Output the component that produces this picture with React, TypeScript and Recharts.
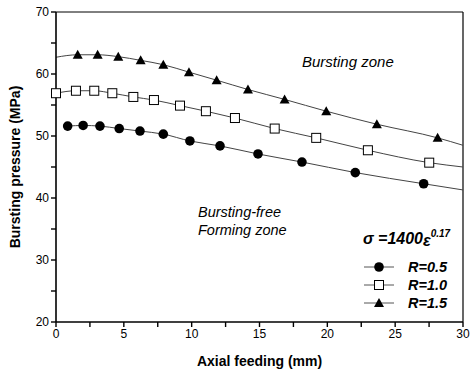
import { ComposedChart, Line, Scatter, XAxis, YAxis, ReferenceLine } from "recharts"

// axial feeding (mm) / bursting pressure (MPa)
const feedR05 = [0.86, 2.0, 3.24, 4.66, 6.19, 7.91, 9.87, 12.09, 14.89, 18.13, 22.06, 27.1]
const pressR05 = [51.6, 51.7, 51.6, 51.2, 50.8, 50.3, 49.2, 48.4, 47.1, 45.8, 44.1, 42.3]
const endR05 = { x: 30, y: 41.3 }

const feedR10 = [0, 1.47, 2.82, 4.15, 5.7, 7.22, 9.14, 11.05, 13.19, 16.12, 19.18, 22.99, 27.51]
const pressR10 = [56.9, 57.3, 57.3, 56.9, 56.3, 55.8, 54.9, 54.0, 52.9, 51.2, 49.7, 47.7, 45.7]
const endR10 = { x: 30, y: 45.0 }

const feedR15 = [1.6, 3.07, 4.59, 6.24, 7.91, 9.8, 11.84, 14.15, 16.85, 19.92, 23.65, 28.13]
const pressR15 = [63.1, 63.1, 62.8, 62.2, 61.5, 60.3, 59.0, 57.5, 55.9, 54.0, 51.9, 49.7]
const startR15 = { x: 0, y: 62.7 }
const endR15 = { x: 30, y: 48.5 }

const seriesNames = ["R=0.5", "R=1.0", "R=1.5"]

const xTicks = [0, 2.5, 5, 7.5, 10, 12.5, 15, 17.5, 20, 22.5, 25, 27.5, 30]
const yTicks = [20, 25, 30, 35, 40, 45, 50, 55, 60, 65, 70]

const toPoints = (xs: number[], ys: number[]) => xs.map((x, i) => ({ x, y: ys[i] }))

const ptsR05 = toPoints(feedR05, pressR05)
const ptsR10 = toPoints(feedR10, pressR10)
const ptsR15 = toPoints(feedR15, pressR15)

const curveR05 = [...ptsR05, endR05]
const curveR10 = [...ptsR10, endR10]
const curveR15 = [startR15, ...ptsR15, endR15]

const font = "'Liberation Sans', Arial, sans-serif"

const CircleDot = (p: any) => <circle cx={p.cx} cy={p.cy} r={4.8} fill="#000" />
const SquareDot = (p: any) => (
  <rect x={p.cx - 4.5} y={p.cy - 4.5} width={9} height={9} fill="#fff" stroke="#000" strokeWidth={1} />
)
const TriDot = (p: any) => (
  <polygon points={`${p.cx},${p.cy - 5} ${p.cx - 5},${p.cy + 4} ${p.cx + 5},${p.cy + 4}`} fill="#000" />
)

const markerShapes = [CircleDot, SquareDot, TriDot]

const tickStyle = { fontSize: 12, fill: "#000", fontFamily: font }

function LegendBox() {
  return (
    <div style={{ position: "absolute", left: 363, top: 258, fontFamily: font }}>
      {seriesNames.map((name, i) => {
        const Mark = markerShapes[i]
        return (
          <div key={name} style={{ display: "flex", alignItems: "center", height: 18 }}>
            <svg width={32} height={14}>
              <line x1={1} y1={7} x2={31} y2={7} stroke="#555" strokeWidth={1} />
              <Mark cx={16} cy={7} />
            </svg>
            <span style={{ marginLeft: 13, fontSize: 14.5, fontWeight: "bold", fontStyle: "italic" }}>{name}</span>
          </div>
        )
      })}
    </div>
  )
}

export default function App() {
  return (
    <div style={{ position: "absolute", left: 0, top: 0, width: 474, height: 374, background: "#fff" }}>
      <ComposedChart width={474} height={374} margin={{ top: 12, right: 11, left: 0, bottom: 0 }}>
        <XAxis
          dataKey="x"
          type="number"
          domain={[0, 30]}
          ticks={xTicks}
          interval={0}
          tickFormatter={(v: number) => (v % 5 === 0 ? String(v) : "")}
          tick={tickStyle}
          tickSize={5}
          height={52}
          axisLine={{ stroke: "#000", strokeWidth: 1.6 }}
          tickLine={{ stroke: "#000", strokeWidth: 1.4 }}
          label={{
            value: "Axial feeding (mm)",
            position: "insideBottom",
            offset: 8,
            style: { fontSize: 14, fontWeight: "bold", fill: "#000", fontFamily: font },
          }}
        />
        <YAxis
          type="number"
          domain={[20, 70]}
          ticks={yTicks}
          interval={0}
          tickFormatter={(v: number) => (v % 10 === 0 ? String(v) : "")}
          tick={tickStyle}
          tickSize={5}
          width={56}
          axisLine={{ stroke: "#000", strokeWidth: 1.6 }}
          tickLine={{ stroke: "#000", strokeWidth: 1.4 }}
          label={{
            value: "Bursting pressure (MPa)",
            angle: -90,
            position: "insideLeft",
            offset: 15,
            style: { fontSize: 14, fontWeight: "bold", fill: "#000", fontFamily: font, textAnchor: "middle" },
          }}
        />
        <ReferenceLine y={70} stroke="#000" strokeWidth={1} />
        <ReferenceLine x={30} stroke="#000" strokeWidth={1.2} />
        <Line data={curveR05} dataKey="y" type="monotone" stroke="#444" strokeWidth={1} dot={false} isAnimationActive={false} />
        <Line data={curveR10} dataKey="y" type="monotone" stroke="#444" strokeWidth={1} dot={false} isAnimationActive={false} />
        <Line data={curveR15} dataKey="y" type="monotone" stroke="#444" strokeWidth={1} dot={false} isAnimationActive={false} />
        <Scatter name={seriesNames[0]} data={ptsR05} dataKey="y" shape={CircleDot} isAnimationActive={false} />
        <Scatter name={seriesNames[1]} data={ptsR10} dataKey="y" shape={SquareDot} isAnimationActive={false} />
        <Scatter name={seriesNames[2]} data={ptsR15} dataKey="y" shape={TriDot} isAnimationActive={false} />
      </ComposedChart>
      <LegendBox />
      <div style={{ position: "absolute", left: 302, top: 54, fontFamily: font, fontSize: 15, fontStyle: "italic", lineHeight: 1 }}>
        Bursting zone
      </div>
      <div style={{ position: "absolute", left: 198, top: 203, fontFamily: font, fontSize: 14.5, fontStyle: "italic", lineHeight: "18px" }}>
        Bursting-free
        <br />
        Forming zone
      </div>
      <div style={{ position: "absolute", left: 363, top: 229, fontFamily: font, fontSize: 16, fontStyle: "italic", fontWeight: "bold", lineHeight: 1 }}>
        σ =1400<span style={{ position: "relative", top: 2 }}>ε</span>
        <sup style={{ fontSize: 10, verticalAlign: "7px" }}>0.17</sup>
      </div>
    </div>
  )
}
